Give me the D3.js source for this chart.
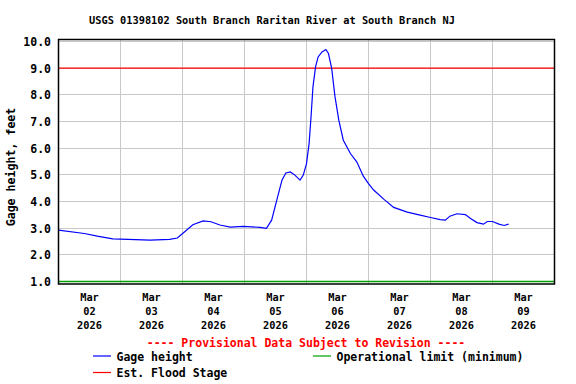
<!DOCTYPE html>
<html>
<head>
<meta charset="utf-8">
<script src="https://cdn.jsdelivr.net/npm/d3@7"></script>
<style>
  body { margin: 0; background: #fff; }
  text { font-family: "DejaVu Sans Mono", "Liberation Mono", monospace; font-weight: bold; }
  .grid line { stroke: #c8c8c8; stroke-width: 1; shape-rendering: crispEdges; }
  .line-path { fill: none; stroke: #0000ff; stroke-width: 1.2; }
</style>
</head>
<body>
<svg></svg>
<script>
// gage height readings, 2026 local time
const times = [
  '03-02 00:00','03-02 10:00','03-02 15:00','03-02 21:00','03-03 00:00','03-03 11:30',
  '03-03 19:00','03-03 22:00','03-04 00:30','03-04 04:00','03-04 08:00','03-04 11:00',
  '03-04 14:30','03-04 18:30','03-04 23:30','03-05 06:00','03-05 08:30','03-05 10:30',
  '03-05 12:30','03-05 14:30','03-05 16:00','03-05 17:45','03-05 19:30','03-05 21:30',
  '03-05 22:45','03-06 00:00','03-06 01:00','03-06 01:45','03-06 02:30','03-06 03:30',
  '03-06 04:30','03-06 06:00','03-06 07:30','03-06 08:30','03-06 09:45','03-06 11:00',
  '03-06 12:30','03-06 14:15','03-06 17:00','03-06 19:30','03-06 22:00','03-07 00:00',
  '03-07 02:00','03-07 06:00','03-07 09:45','03-07 15:00','03-07 20:00','03-08 00:00',
  '03-08 03:45','03-08 05:45','03-08 07:30','03-08 10:15','03-08 13:30','03-08 15:30',
  '03-08 18:00','03-08 20:30','03-08 22:00','03-09 00:00','03-09 02:30','03-09 04:30',
  '03-09 06:15'
];
const gageHeight = [
  2.93, 2.80, 2.70, 2.60, 2.59, 2.55,
  2.58, 2.63, 2.84, 3.13, 3.27, 3.24,
  3.12, 3.04, 3.07, 3.03, 2.99, 3.30,
  4.05, 4.80, 5.07, 5.11, 4.99, 4.80,
  4.99, 5.42, 6.17, 7.17, 8.30, 9.05,
  9.42, 9.61, 9.70, 9.55, 8.99, 7.95,
  7.05, 6.30, 5.80, 5.48, 4.95, 4.67,
  4.43, 4.08, 3.78, 3.60, 3.49, 3.40,
  3.32, 3.30, 3.45, 3.54, 3.51, 3.36,
  3.21, 3.15, 3.25, 3.25, 3.15, 3.10,
  3.15
];
const floodStage = 9.0;
const operationalMin = 1.0;
const yTicks = [1, 2, 3, 4, 5, 6, 7, 8, 9, 10];
const dayLabels = ['02', '03', '04', '05', '06', '07', '08', '09'];
const title = 'USGS 01398102 South Branch Raritan River at South Branch NJ';
const yAxisLabel = 'Gage height, feet';

const width = 576, height = 384;
const svg = d3.select('svg').attr('width', width).attr('height', height);

const parse = d3.timeParse('%Y-%m-%d %H:%M');
const data = times.map((t, i) => ({ date: parse('2026-' + t), value: gageHeight[i] }));
const days = dayLabels.map(d => parse('2026-03-' + d + ' 00:00'));

const plotLeft = 58.5, plotRight = 554.5;
const plotTop = 39.5, plotBottom = 284;
const xScale = d3.scaleTime()
  .domain([parse('2026-03-02 00:00'), parse('2026-03-10 00:00')])
  .range([plotLeft, plotRight]);
const yScale = d3.scaleLinear()
  .domain([1, 10])
  .range([281.5, 41.5]);

// grid
const grid = svg.append('g').attr('class', 'grid');
grid.selectAll('.hg').data(yTicks.slice(1)).enter().append('line')
  .attr('x1', plotLeft).attr('x2', plotRight)
  .attr('y1', d => yScale(d)).attr('y2', d => yScale(d));
grid.selectAll('.vg').data(days.slice(1)).enter().append('line')
  .attr('x1', d => xScale(d)).attr('x2', d => xScale(d))
  .attr('y1', plotTop).attr('y2', plotBottom);

// threshold lines
svg.append('line')
  .attr('x1', plotLeft).attr('x2', plotRight)
  .attr('y1', yScale(floodStage)).attr('y2', yScale(floodStage))
  .attr('stroke', '#ff0000').attr('stroke-width', 1.2);
svg.append('line')
  .attr('x1', plotLeft).attr('x2', plotRight)
  .attr('y1', yScale(operationalMin)).attr('y2', yScale(operationalMin))
  .attr('stroke', '#00a000').attr('stroke-width', 1.5);

// data line
const lineGenerator = d3.line()
  .x(d => xScale(d.date))
  .y(d => yScale(d.value));
svg.append('path')
  .attr('class', 'line-path')
  .attr('d', lineGenerator(data));

// frame
svg.append('rect')
  .attr('x', plotLeft).attr('y', plotTop)
  .attr('width', plotRight - plotLeft).attr('height', plotBottom - plotTop)
  .attr('fill', 'none').attr('stroke', '#000').attr('stroke-width', 1.5);

// y tick labels
svg.selectAll('.ytick').data(yTicks).enter().append('text')
  .attr('x', 51).attr('y', d => yScale(d) + 4.5)
  .attr('text-anchor', 'end')
  .attr('font-size', 11.5)
  .text(d => d.toFixed(1));

// x tick labels, centred on each day
const xl = svg.selectAll('.xtick').data(days).enter().append('g')
  .attr('transform', d => `translate(${xScale(d3.timeHour.offset(d, 12))},0)`);
xl.append('text').attr('y', 301).attr('text-anchor', 'middle').attr('font-size', 10.3).text('Mar');
xl.append('text').attr('y', 315).attr('text-anchor', 'middle').attr('font-size', 10.3).text((d, i) => dayLabels[i]);
xl.append('text').attr('y', 329).attr('text-anchor', 'middle').attr('font-size', 10.3).text('2026');

// title
svg.append('text')
  .attr('x', 272).attr('y', 24)
  .attr('text-anchor', 'middle')
  .attr('font-size', 10.3)
  .text(title);

// y axis label
svg.append('text')
  .attr('transform', 'translate(15,167) rotate(-90)')
  .attr('text-anchor', 'middle')
  .attr('font-size', 11.6)
  .text(yAxisLabel);

// legend
svg.append('text')
  .attr('x', 306).attr('y', 347)
  .attr('text-anchor', 'middle')
  .attr('font-size', 11.5)
  .attr('fill', '#ff0000')
  .text('---- Provisional Data Subject to Revision ----');

const legendItems = [
  { label: 'Gage height', color: '#0000ff', x: 93, y: 356 },
  { label: 'Operational limit (minimum)', color: '#00a000', x: 313, y: 356 },
  { label: 'Est. Flood Stage', color: '#ff0000', x: 93, y: 372.5 }
];
const lg = svg.selectAll('.legend').data(legendItems).enter().append('g');
lg.append('line')
  .attr('x1', d => d.x).attr('x2', d => d.x + 18)
  .attr('y1', d => d.y).attr('y2', d => d.y)
  .attr('stroke', d => d.color).attr('stroke-width', 1.2);
lg.append('text')
  .attr('x', d => d.x + 23.5).attr('y', d => d.y + 4.5)
  .attr('font-size', 11.5)
  .text(d => d.label);
</script>
</body>
</html>
